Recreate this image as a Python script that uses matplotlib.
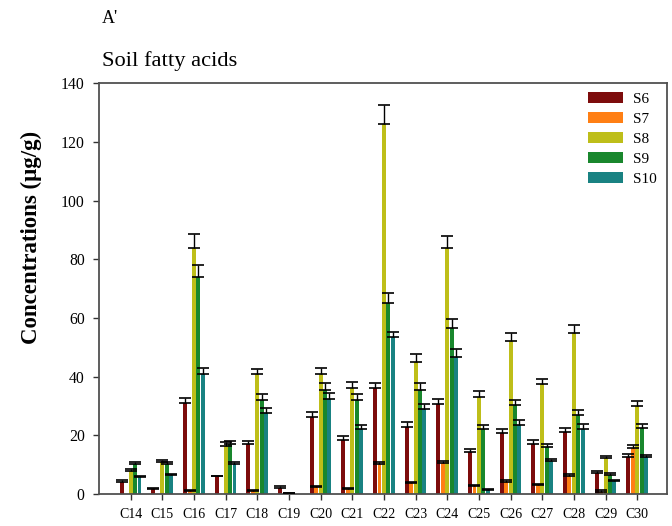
import numpy as np
import matplotlib
matplotlib.use("Agg")
import matplotlib.pyplot as plt

plt.rcParams['font.family'] = ['Liberation Serif', 'DejaVu Serif']

acids = ['C14', 'C15', 'C16', 'C17', 'C18', 'C19', 'C20', 'C21', 'C22',
         'C23', 'C24', 'C25', 'C26', 'C27', 'C28', 'C29', 'C30']

s6 = [4.2, 1.7, 31.1, 6.0, 16.9, 2.1, 26.3, 18.4, 36.2, 22.9, 30.7, 14.4, 20.9, 17.0, 21.2, 7.3, 12.7]
s6_err = [0.6, 0.5, 1.8, 0.3, 1.1, 0.6, 1.6, 1.4, 1.8, 1.6, 1.8, 1.0, 1.3, 1.4, 1.3, 0.5, 0.9]

s7 = [0, 0, 1.1, 0, 1.0, 0, 2.5, 1.7, 10.4, 3.9, 10.7, 2.7, 4.2, 3.1, 6.2, 0.7, 15.6]
s7_err = [0, 0, 0.3, 0, 0.5, 0, 0.4, 0.3, 0.5, 0.3, 0.6, 0.4, 0.5, 0.3, 0.5, 0.5, 1.1]

s8 = [7.9, 11.0, 84.0, 16.3, 41.0, 0.3, 40.8, 36.2, 126.0, 45.1, 84.0, 33.1, 52.1, 37.4, 55.0, 12.4, 30.0]
s8_err = [0.5, 0.6, 4.5, 1.3, 1.5, 0.2, 2.0, 2.1, 6.5, 2.5, 4.0, 2.0, 2.9, 1.9, 2.5, 0.5, 1.8]

s9 = [10.1, 10.2, 74.0, 17.0, 32.0, 0, 35.4, 32.2, 65.0, 35.4, 56.5, 22.1, 30.2, 15.9, 27.0, 6.6, 22.5]
s9_err = [0.7, 0.8, 4.0, 1.0, 2.0, 0, 2.3, 1.8, 3.5, 2.3, 3.0, 1.4, 1.8, 1.0, 1.7, 0.6, 1.3]

s10 = [5.9, 6.5, 41.0, 10.4, 27.7, 0, 32.4, 22.1, 53.6, 29.0, 46.8, 1.4, 23.5, 11.3, 22.2, 4.3, 12.7]
s10_err = [0.3, 0.4, 2.0, 0.6, 1.5, 0, 1.9, 1.5, 1.7, 1.7, 2.6, 0.3, 1.7, 0.8, 1.5, 0.6, 0.6]

series = [('S6', s6, s6_err, '#7d0c0c'),
          ('S7', s7, s7_err, '#ff7f14'),
          ('S8', s8, s8_err, '#bebe19'),
          ('S9', s9, s9_err, '#19872d'),
          ('S10', s10, s10_err, '#198282')]

fig = plt.figure(figsize=(6.72, 5.26), dpi=100)
ax = fig.add_axes([0.1473, 0.0608, 0.8457, 0.7808])

x = np.arange(len(acids))
step = 0.14
width = 0.125
for i, (name, vals, errs, col) in enumerate(series):
    vals = np.array(vals)
    errs = np.array(errs)
    pos = x + (i - 2) * step
    ax.bar(pos, vals, width=width, color=col, label=name, zorder=2)
    keep = (vals > 0) | (errs > 0)
    ax.errorbar(pos[keep], vals[keep], yerr=[np.zeros(keep.sum()), errs[keep]],
                fmt='none', ecolor='black', elinewidth=1.0, capsize=4,
                capthick=1.2, zorder=3)

ax.set_xlim(-1.0, 16.95)
ax.set_ylim(0, 140)
ax.set_xticks(x)
ax.set_xticklabels(acids, fontsize=10)
ax.set_yticks(np.arange(0, 141, 20))
ax.tick_params(axis='y', labelsize=11.3, direction='out', length=4.3, width=1,
               colors='#333333', pad=6)
ax.tick_params(axis='x', direction='out', length=4, width=1, colors='#333333', pad=6)
for lab in ax.get_xticklabels() + ax.get_yticklabels():
    lab.set_color('black')
for sp in ax.spines.values():
    sp.set_color('#505050')
    sp.set_linewidth(1.3)

fig.text(0.0461, 0.5485, 'Concentrations (μg/g)', fontsize=16.5, fontweight='bold',
         rotation=90, ha='center', va='center')

leg = ax.legend(loc='upper right', bbox_to_anchor=(1.0, 1.005), frameon=False,
                fontsize=11, handlelength=2.3, handleheight=0.7,
                labelspacing=0.42, handletextpad=0.65, borderaxespad=0.3)

fig.text(0.152, 0.965, "A'", fontsize=13, va='center')
fig.text(0.152, 0.883, 'Soil fatty acids', fontsize=16.2, va='center')

fig.savefig('out.png', dpi=100)
